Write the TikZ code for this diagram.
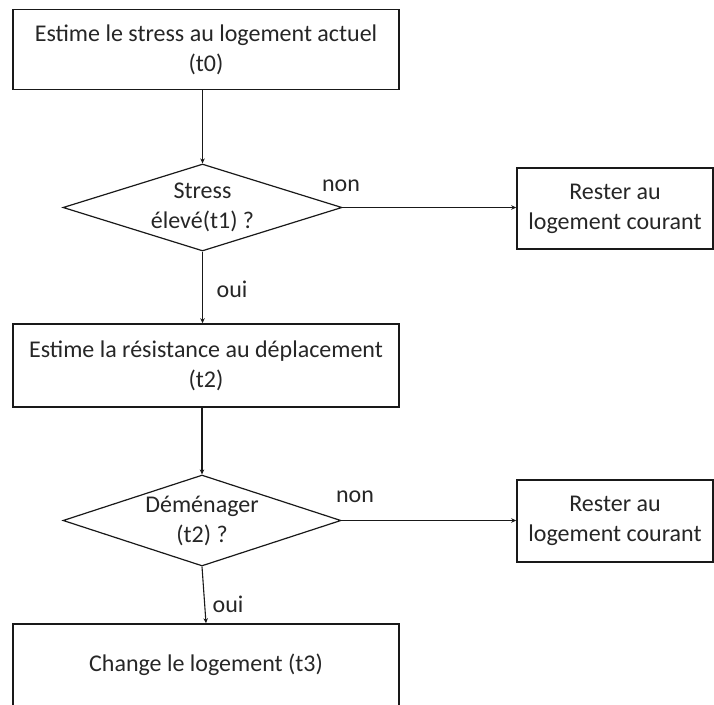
\documentclass[tikz,border=0pt]{standalone}
\usepackage{fontspec}
\setmainfont{Carlito}
\usetikzlibrary{shapes.geometric,arrows.meta}
\begin{document}
\begin{tikzpicture}[x=1pt,y=-1pt,
  every node/.style={font=\fontsize{24}{30}\selectfont, text=black!85},
  procbox/.style={draw=black!90, line width=1.6pt, rectangle, inner sep=0pt, align=center},
  decision/.style={draw=black!90, line width=1.2pt, diamond, shape aspect=3.2, inner sep=0pt, align=center},
  flow/.style={draw=black!90, line width=1.1pt, -{Stealth[length=5pt,width=4.5pt]}},
  tag/.style={inner sep=0pt}
]
\useasboundingbox (0,0) rectangle (714,704);
\begin{scope}
\clip (0,0) rectangle (714,704);

% process boxes
\node[procbox, minimum width=386pt, minimum height=80pt] (b1) at (206,49.5)
  {Estime le stress au logement actuel\\(t0)};
\node[procbox, minimum width=386pt, minimum height=83pt] (b2) at (206,365.5)
  {Estime la résistance au déplacement\\(t2)};
\node[procbox, minimum width=386pt, minimum height=100pt] (b3) at (206,674) {};
\node[tag] (b3t) at (206,665) {Change le logement (t3)};

% decisions
\node[decision, minimum width=279pt, minimum height=87pt] (d1) at (202.5,207.5)
  {Stress\\élevé(t1) ?};
\node[decision, minimum width=278pt, minimum height=91pt] (d2) at (202,520.5)
  {Déménager\\(t2) ?};

% side outcomes
\node[procbox, minimum width=196pt, minimum height=81pt] (r1) at (615,208.5)
  {Rester au\\logement courant};
\node[procbox, minimum width=196pt, minimum height=82pt] (r2) at (615,521)
  {Rester au\\logement courant};

% connectors
\draw[flow] (d1.north |- b1.south) -- (d1.north);
\draw[flow] (d1.south) -- (d1.south |- b2.north);
\draw[flow] (d2.north |- b2.south) -- (d2.north);
\draw[flow] (d2.south) -- (b3.north);
\draw[flow] (d1.east) -- (r1.west |- d1.east);
\draw[flow] (d2.east) -- (r2.west |- d2.east);

% branch labels
\node[tag] (n1) at (341,186) {non};
\node[tag] (n2) at (355,497) {non};
\node[tag] (o1) at (232,289) {oui};
\node[tag] (o2) at (228,604) {oui};
\end{scope}
\end{tikzpicture}
\end{document}
